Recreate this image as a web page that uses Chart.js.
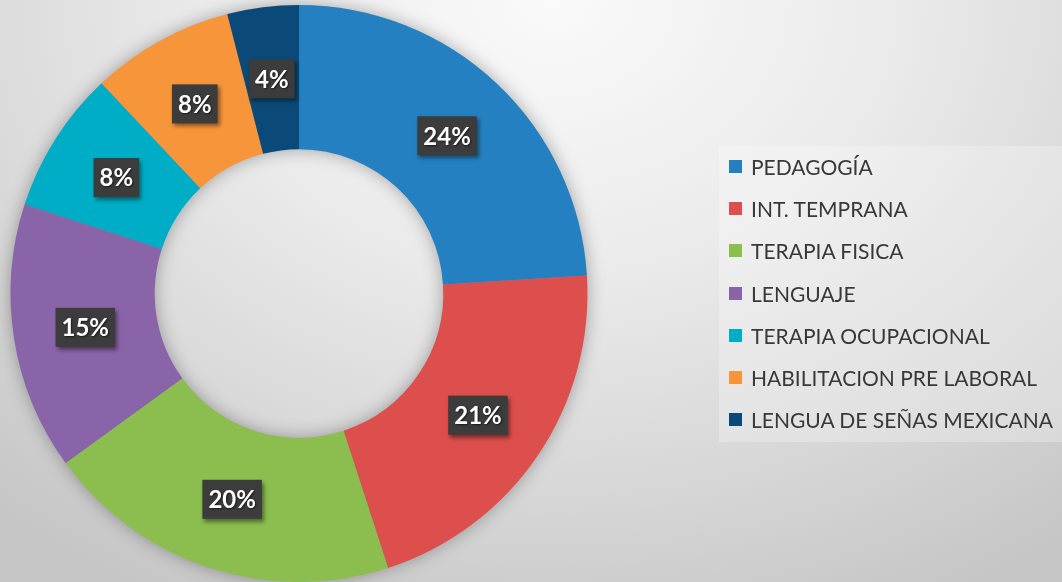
<!DOCTYPE html>
<html>
<head>
<meta charset="utf-8">
<script src="https://cdn.jsdelivr.net/npm/chart.js@4"></script>
<style>
    html, body { margin: 0; padding: 0; }
    body {
        width: 1062px; height: 582px; overflow: hidden; position: relative;
        background: radial-gradient(ellipse 80% 115% at 52% 0%, #fafafa 0%, #ebebeb 40%, #d6d6d6 75%, #c6c6c6 100%);
        font-family: Lato, "Open Sans", sans-serif;
    }
    #wrap { position: absolute; left: 0; top: 0; width: 1062px; height: 582px; }
    #legend {
        position: absolute; left: 719px; top: 146px; width: 343px; height: 296px;
        background: rgba(255, 255, 255, 0.25);
    }
    .item { position: absolute; left: 10px; height: 24px; line-height: 24px; font-size: 21px; color: #383838; white-space: nowrap; }
    .item span.box { position: absolute; left: 0; top: 5px; width: 13px; height: 13px; }
    .item span.txt { position: absolute; left: 22px; top: 0; }
</style>
</head>
<body>
<div id="wrap"><canvas id="myChart"></canvas></div>
<div id="legend"></div>
<script>
"use strict";
const categories = ['PEDAGOGÍA', 'INT. TEMPRANA', 'TERAPIA FISICA', 'LENGUAJE', 'TERAPIA OCUPACIONAL', 'HABILITACION PRE LABORAL', 'LENGUA DE SEÑAS MEXICANA'];
const values = [24, 21, 20, 15, 8, 8, 4];
const colors = ['#2580c1', '#dd4f4d', '#8cbd4f', '#8a64a8', '#00adc6', '#f7953a', '#0b4a78'];

// soft shadow under the ring
const ringShadow = {
    id: 'ringShadow',
    beforeDatasetsDraw(chart) {
        const arc = chart.getDatasetMeta(0).data[0];
        if (!arc) return;
        const p = arc.getProps(['x', 'y', 'innerRadius', 'outerRadius'], true);
        const ctx = chart.ctx;
        ctx.save();
        ctx.beginPath();
        ctx.arc(p.x, p.y, p.outerRadius - 1, 0, Math.PI * 2, false);
        ctx.arc(p.x, p.y, p.innerRadius + 1, 0, Math.PI * 2, true);
        ctx.closePath();
        ctx.shadowColor = 'rgba(0,0,0,0.35)';
        ctx.shadowBlur = 18;
        ctx.fillStyle = '#888';
        ctx.fill();
        ctx.restore();
    }
};

// dark boxes with percentages
const pctLabels = {
    id: 'pctLabels',
    afterDatasetsDraw(chart) {
        const ctx = chart.ctx;
        const total = values.reduce((a, b) => a + b, 0);
        chart.getDatasetMeta(0).data.forEach(function(arc, i) {
            const pos = arc.tooltipPosition(true);
            const txt = Math.round(values[i] / total * 100) + '%';
            ctx.save();
            ctx.font = 'bold 24px Lato, "Open Sans", sans-serif';
            const w = ctx.measureText(txt).width + 12;
            const h = 39;
            ctx.shadowColor = 'rgba(0,0,0,0.45)';
            ctx.shadowBlur = 4;
            ctx.shadowOffsetX = 2;
            ctx.shadowOffsetY = 3;
            ctx.fillStyle = '#3c3c3c';
            ctx.fillRect(pos.x - w / 2, pos.y - h / 2, w, h);
            ctx.shadowColor = 'rgba(0,0,0,0.6)';
            ctx.shadowBlur = 2;
            ctx.shadowOffsetX = 1;
            ctx.shadowOffsetY = 1;
            ctx.fillStyle = '#ffffff';
            ctx.textAlign = 'center';
            ctx.textBaseline = 'middle';
            ctx.fillText(txt, pos.x, pos.y + 1);
            ctx.restore();
        });
    }
};

window.addEventListener("load", function() {
    const legend = document.getElementById("legend");
    categories.forEach(function(name, i) {
        const d = document.createElement("div");
        d.className = "item";
        d.style.top = (9 + i * 42.2) + "px";
        d.innerHTML = '<span class="box" style="background:' + colors[i] + '"></span><span class="txt"></span>';
        d.querySelector(".txt").textContent = name;
        legend.appendChild(d);
    });

    const ctx = document.getElementById("myChart");
    new Chart(ctx, {
        "type": 'doughnut',
        "data": {
            "labels": categories,
            "datasets": [
                {
                    "data": values,
                    "backgroundColor": colors,
                    "borderWidth": 0
                }
            ]
        },
        "options": {
            "responsive": true,
            "maintainAspectRatio": false,
            "animation": false,
            "cutout": '50%',
            "layout": { "padding": { "left": 10, "top": 5, "right": 474, "bottom": 0 } },
            "plugins": {
                "legend": { "display": false },
                "tooltip": { "enabled": false }
            }
        },
        "plugins": [ringShadow, pctLabels]
    });
});
</script>
</body>
</html>
